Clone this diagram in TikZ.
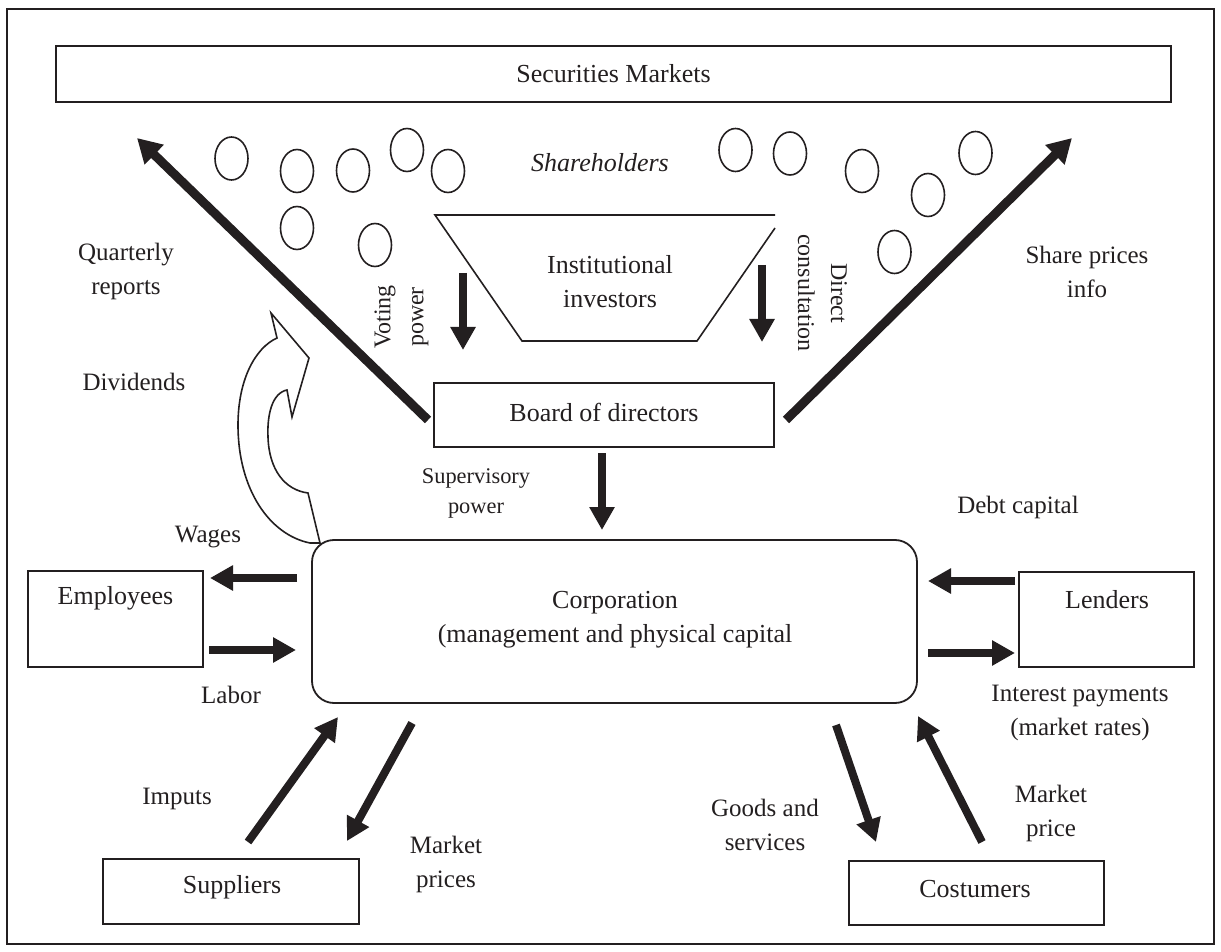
\documentclass[tikz,border=0pt]{standalone}
\usepackage{fontspec}
\setmainfont{Liberation Serif}
\usetikzlibrary{arrows.meta,shapes.geometric}
\definecolor{ink}{HTML}{231F20}
\begin{document}
\begin{tikzpicture}[x=0.5pt,y=-0.5pt, color=ink,
  box/.style={draw, line width=0.9pt, inner sep=0pt},
  lbl/.style={font=\fontsize{12.5}{17}\selectfont, align=center, inner sep=0pt},
  btxt/.style={font=\fontsize{13}{17}\selectfont, align=center, inner sep=0pt},
  rtxt/.style={font=\fontsize{12}{16.5}\selectfont, align=center, inner sep=0pt},
  stxt/.style={font=\fontsize{11.2}{15}\selectfont, align=center, inner sep=0pt},
  fat/.style={line width=4pt, -{Triangle[length=11.5pt,width=12pt]}},
  big/.style={line width=4.5pt, -{Triangle[length=12pt,width=13pt]}},
  sh/.style={draw, ellipse, line width=0.8pt, minimum width=16.5pt, minimum height=21.5pt, inner sep=0pt},
  thin/.style={line width=0.8pt}
]
\useasboundingbox (0,0) rectangle (1221,952);
% outer frame
\draw[line width=1pt] (7,9) rectangle (1214,944);

% boxes
\node[box, minimum width=557.5pt, minimum height=28pt] (sec) at (613.5,74) {};
\node[btxt] (sect) at (613.5,74) {Securities Markets};
\node[box, minimum width=170pt, minimum height=32pt] (bod) at (604,415) {};
\node[btxt] (bodt) at (604,412) {Board of directors};
\node[box, rounded corners=11pt, minimum width=302.5pt, minimum height=81.5pt] (corp) at (614.5,621.5) {};
\node[btxt] (corpt) at (615,620) {Corporation\\(management and physical capital};
\node[box, minimum width=87.5pt, minimum height=48pt] (emp) at (115.5,619) {};
\node[btxt] (empt) at (115.5,598) {Employees};
\node[box, minimum width=87.5pt, minimum height=47.5pt] (len) at (1106.5,619.5) {};
\node[btxt] (lent) at (1107,600) {Lenders};
\node[box, minimum width=128pt, minimum height=32.5pt] (sup) at (231,891.5) {};
\node[btxt] (supt) at (232,887) {Suppliers};
\node[box, minimum width=127.5pt, minimum height=32pt] (cos) at (976.5,893) {};
\node[btxt] (cost) at (975,889) {Costumers};

% institutional investors trapezoid
\draw[thin] (775,215) -- (435,215) -- (522,341) -- (697,341) -- (775,228);
\node[btxt] (inst) at (610,281.5) {Institutional\\investors};

% shareholders
\node[btxt, font=\fontsize{13}{17}\selectfont\itshape] (shl) at (600,163) {Shareholders};
\node[sh] (s1) at (231.5,158.5) {};
\node[sh] (s2) at (297,171) {};
\node[sh] (s3) at (353,170.5) {};
\node[sh] (s4) at (407,150) {};
\node[sh] (s5) at (448,171) {};
\node[sh] (s6) at (297,228) {};
\node[sh] (s7) at (375,245) {};
\node[sh] (s8) at (735.5,150) {};
\node[sh] (s9) at (790,153.5) {};
\node[sh] (s10) at (862,171) {};
\node[sh] (s11) at (928,195) {};
\node[sh] (s12) at (975.5,153) {};
\node[sh] (s13) at (894.5,252) {};

% coordinates for arrow ends
\coordinate (qrA) at (428,420); \coordinate (qrB) at (137,138);
\coordinate (spA) at (786,420); \coordinate (spB) at (1072,138);
\coordinate (vA) at (463,273); \coordinate (vB) at (463,350);
\coordinate (dA) at (762,265); \coordinate (dB) at (762,342);
\coordinate (svA) at (602,453); \coordinate (svB) at (602,530);
\coordinate (wA) at (297,578); \coordinate (wB) at (210,578);
\coordinate (lA) at (209,650); \coordinate (lB) at (296,650);
\coordinate (dcA) at (1015,581); \coordinate (dcB) at (928,581);
\coordinate (ipA) at (928,653); \coordinate (ipB) at (1015,653);
\coordinate (imA) at (248,842); \coordinate (imB) at (338,717);
\coordinate (mpA) at (412,723); \coordinate (mpB) at (347,841);
\coordinate (gsA) at (836,725); \coordinate (gsB) at (876,842);
\coordinate (mcA) at (982,842); \coordinate (mcB) at (918,716);

\draw[big] (qrA) -- (qrB);
\draw[big] (spA) -- (spB);
\draw[fat] (vA) -- (vB);
\draw[fat] (dA) -- (dB);
\draw[fat] (svA) -- (svB);
\draw[fat] (wA) -- (wB);
\draw[fat] (lA) -- (lB);
\draw[fat] (dcA) -- (dcB);
\draw[fat] (ipA) -- (ipB);
\draw[fat] (imA) -- (imB);
\draw[fat] (mpA) -- (mpB);
\draw[fat] (gsA) -- (gsB);
\draw[fat] (mcA) -- (mcB);

% dividends curved block arrow
\draw[thin, fill=white] (320,543) -- (310,543)
  .. controls (270,535) and (238,490) .. (238,425)
  .. controls (238,380) and (255,348) .. (277,338)
  -- (271,313) -- (309,358) -- (292,417) -- (287,390)
  .. controls (272,393) and (267,415) .. (268,437)
  .. controls (269,470) and (285,490) .. (308,493) -- cycle;

% labels
\node[lbl] (qr) at (126,271.5) {Quarterly\\reports};
\node[lbl] (spi) at (1087,271.5) {Share prices\\info};
\node[lbl] (div) at (134,382) {Dividends};
\node[rtxt, rotate=90] (vp) at (401.5,317) {Voting\\power};
\node[rtxt, rotate=-90] (dc) at (822.5,293) {Direct\\consultation};
\node[stxt] (svp) at (476,493) {Supervisory\\power};
\node[lbl] (wag) at (208,537) {Wages};
\node[lbl] (lab) at (231,695) {Labor};
\node[lbl] (dct) at (1018,507) {Debt capital};
\node[lbl] (ipt) at (1080,713) {Interest payments\\(market rates)};
\node[lbl] (imt) at (177,799) {Imputs};
\node[lbl] (mpt) at (446,864.5) {Market\\prices};
\node[lbl] (gst) at (765,825) {Goods and\\services};
\node[lbl] (mct) at (1051,813.5) {Market\\price};
\end{tikzpicture}
\end{document}
